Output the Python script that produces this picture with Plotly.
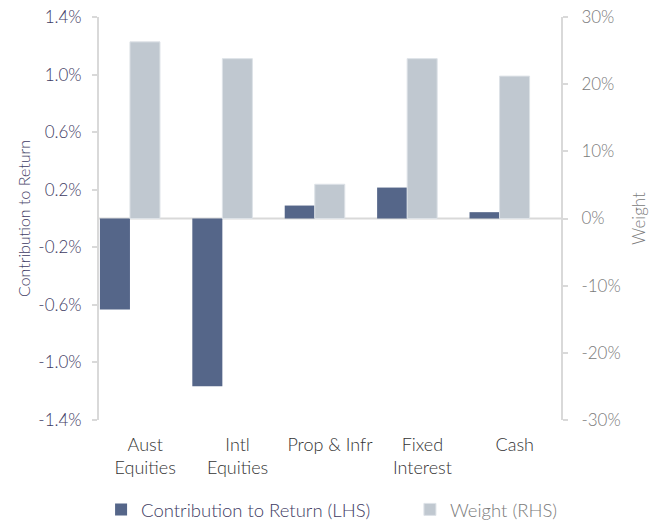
import plotly.graph_objects as go

categories = ["Aust<br>Equities", "Intl<br>Equities", "Prop & Infr", "Fixed<br>Interest", "Cash"]
contribution = [-0.632, -1.165, 0.09, 0.215, 0.044]   # % (LHS)
weight = [26.3, 23.8, 5.1, 23.8, 21.2]                 # % (RHS)

lhs_ticks = [1.4, 1.0, 0.6, 0.2, -0.2, -0.6, -1.0, -1.4]
rhs_ticks = [30, 20, 10, 0, -10, -20, -30]

DARK = "#556689"
LIGHT = "#c0c8d0"
PURPLE = "#3e3b63"
GREY = "#7a7a7a"
FONT = "Lato"

fig = go.Figure()
fig.add_trace(go.Bar(
    x=categories, y=contribution, name="Contribution to Return (LHS)",
    marker=dict(color=DARK, line=dict(width=0)),
    offset=-0.49, width=0.325, yaxis="y", legend="legend",
))
fig.add_trace(go.Bar(
    x=categories, y=weight, name="Weight (RHS)",
    marker=dict(color=LIGHT, line=dict(color="#dde2e7", width=1)),
    offset=-0.165, width=0.325, yaxis="y2", legend="legend2",
))

axis_common = dict(
    showgrid=False, showline=True, linecolor="#d9d9d9", linewidth=2,
    ticks="outside", ticklen=5, tickcolor="#d9d9d9", tickwidth=2,
    zeroline=False, ticklabeloverflow="allow",
)

fig.update_layout(
    width=657, height=521,
    margin=dict(l=99, r=96, t=17, b=101, autoexpand=False),
    paper_bgcolor="white", plot_bgcolor="white",
    font=dict(family=FONT, size=17, color="#333333", weight=300),
    barmode="overlay",
    showlegend=True,
    legend=dict(
        orientation="h", x=0.0045, xanchor="left", y=-0.223, yanchor="middle",
        font=dict(size=18.5, color=PURPLE, family=FONT, weight=300),
    ),
    legend2=dict(
        orientation="h", x=0.673, xanchor="left", y=-0.223, yanchor="middle",
        font=dict(size=18.5, color=GREY, family=FONT, weight=300),
    ),
    xaxis=dict(
        type="category", range=[-0.5, 4.5],
        showline=False, showgrid=False, ticks="", zeroline=False,
        tickfont=dict(size=18, color="#333333"),
        ticklabelstandoff=12,
    ),
    yaxis=dict(
        range=[-1.4, 1.4],
        tickvals=lhs_ticks,
        ticktext=["%.1f%%" % v for v in lhs_ticks],
        tickfont=dict(size=17, color=PURPLE),
        ticklabelstandoff=7,
        title=dict(text="Contribution to Return", font=dict(size=16, color=PURPLE), standoff=4),
        **axis_common,
    ),
    yaxis2=dict(
        range=[-30, 30], overlaying="y", side="right",
        tickvals=rhs_ticks,
        ticktext=["%d%%" % v for v in rhs_ticks],
        tickfont=dict(size=17, color=GREY),
        ticklabelstandoff=10,
        title=dict(text="Weight", font=dict(size=17, color=GREY), standoff=13),
        **axis_common,
    ),
    shapes=[dict(type="line", xref="paper", x0=0, x1=1, yref="y", y0=0, y1=0,
                 line=dict(color="#d9d9d9", width=2), layer="below")],
)

# drop the default 8px page margin so the figure fills the window
fig.write_html("out.html", config={"displayModeBar": False},
               post_script="document.body.style.margin='0';")
